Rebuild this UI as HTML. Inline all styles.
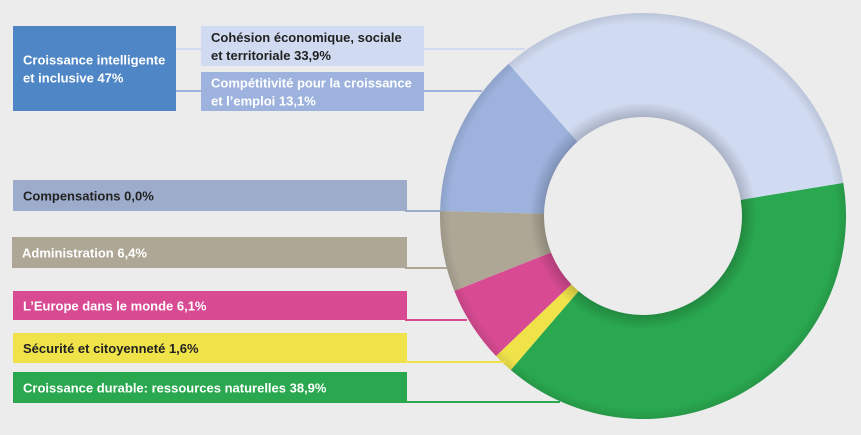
<!DOCTYPE html>
<html><head><meta charset="utf-8"><style>
body{margin:0;background:#ececec;}
svg{display:block;font-family:"Liberation Sans",sans-serif;}
</style></head><body>
<svg id="chart" width="861" height="435" viewBox="0 0 861 435">
<rect width="861" height="435" fill="#ececec"/>
<defs>
<radialGradient id="shade" cx="643" cy="216" r="203" gradientUnits="userSpaceOnUse">
<stop offset="0.49" stop-color="#000" stop-opacity="0.18"/>
<stop offset="0.56" stop-color="#000" stop-opacity="0"/>
<stop offset="0.95" stop-color="#000" stop-opacity="0"/>
<stop offset="1" stop-color="#000" stop-opacity="0.1"/>
</radialGradient>
</defs>
<g id="slices"></g>
<g id="labels"></g>
</svg>
<script>
const categories=["Croissance durable: ressources naturelles","Sécurité et citoyenneté","L’Europe dans le monde","Administration","Compensations","Compétitivité pour la croissance et l’emploi","Cohésion économique, sociale et territoriale"];
const values=[38.9,1.6,6.1,6.4,0.0,13.1,33.9];
const printed=["38,9%","1,6%","6,1%","6,4%","0,0%","13,1%","33,9%"];
const colors=["#2aa84f","#f0e34a","#d84b93","#aea796","#9eaccb","#9db3de","#d0daf0"];
const NS="http://www.w3.org/2000/svg";
const cx=643,cy=216,R=203,r=99,start=-9.4;
const total=values.reduce((a,b)=>a+b,0);
const sl=document.getElementById('slices');
function pt(a,rad){const t=a*Math.PI/180;return [cx+rad*Math.cos(t),cy+rad*Math.sin(t)];}
let a=start;
values.forEach((v,i)=>{
  const sweep=v/total*360;
  if(sweep<=0){return;}
  const a2=a+sweep,lg=sweep>180?1:0;
  const p1=pt(a,R),p2=pt(a2,R),p3=pt(a2,r),p4=pt(a,r);
  const p=document.createElementNS(NS,'path');
  p.setAttribute('d',`M${p1}A${R},${R} 0 ${lg} 1 ${p2}L${p3}A${r},${r} 0 ${lg} 0 ${p4}Z`);
  p.setAttribute('fill',colors[i]);
  
  
  sl.appendChild(p);
  a=a2;
});
const ring=document.createElementNS(NS,'path');
ring.setAttribute('d',`M${cx-R},${cy}a${R},${R} 0 1 0 ${2*R},0a${R},${R} 0 1 0 ${-2*R},0ZM${cx-r},${cy}a${r},${r} 0 1 0 ${2*r},0a${r},${r} 0 1 0 ${-2*r},0Z`);
ring.setAttribute('fill','url(#shade)');
ring.setAttribute('fill-rule','evenodd');


sl.appendChild(ring);

const lb=document.getElementById('labels');
function box(x,y,w,h,fill,lines,tc,name,lineEnd,ly){
  if(lineEnd){
    const l=document.createElementNS(NS,'line');
    l.setAttribute('x1',x+w-2);l.setAttribute('x2',lineEnd);l.setAttribute('y1',ly);l.setAttribute('y2',ly);
    l.setAttribute('stroke',fill);l.setAttribute('stroke-width','2');
    
    
    lb.appendChild(l);
  }
  const rc=document.createElementNS(NS,'rect');
  rc.setAttribute('x',x);rc.setAttribute('y',y);rc.setAttribute('width',w);rc.setAttribute('height',h);rc.setAttribute('fill',fill);
  
  
  lb.appendChild(rc);
  lines.forEach((s,k)=>{
    const t=document.createElementNS(NS,'text');
    t.setAttribute('x',x+10);
    t.setAttribute('y',y+h/2+5+(k-(lines.length-1)/2)*18);
    t.setAttribute('fill',tc);t.setAttribute('font-size','13');t.setAttribute('font-weight','bold');
    t.textContent=s;
    
    
    lb.appendChild(t);
  });
}
// connectors between top group
[[176,201,49,"#d0daf0"],[176,201,91,"#9db3de"]].forEach(c=>{
  const l=document.createElementNS(NS,'line');
  l.setAttribute('x1',c[0]);l.setAttribute('x2',c[1]);l.setAttribute('y1',c[2]);l.setAttribute('y2',c[2]);
  l.setAttribute('stroke',c[3]);l.setAttribute('stroke-width','2');
  
  
  lb.appendChild(l);
});
box(13,26,163,85,"#4f86c6",["Croissance intelligente","et inclusive 47%"],"#fff","croissance-intelligente");
box(201,26,223,40,"#d0daf0",["Cohésion économique, sociale","et territoriale "+printed[6]],"#222","cohesion",525,49);
box(201,72,223,39,"#9db3de",["Compétitivité pour la croissance","et l’emploi "+printed[5]],"#fff","competitivite",482,91);
box(13,180,394,31,colors[4],[categories[4]+" "+printed[4]],"#222","compensations",440,211);
box(12,237,395,31,colors[3],[categories[3]+" "+printed[3]],"#fff","administration",447,268);
box(13,291,394,29,colors[2],[categories[2]+" "+printed[2]],"#fff","europe-monde",467,320);
box(13,333,394,30,colors[1],[categories[1]+" "+printed[1]],"#222","securite",505,362);
box(13,372,394,31,colors[0],[categories[0]+" "+printed[0]],"#fff","croissance-durable",560,402);
</script>
</body></html>
